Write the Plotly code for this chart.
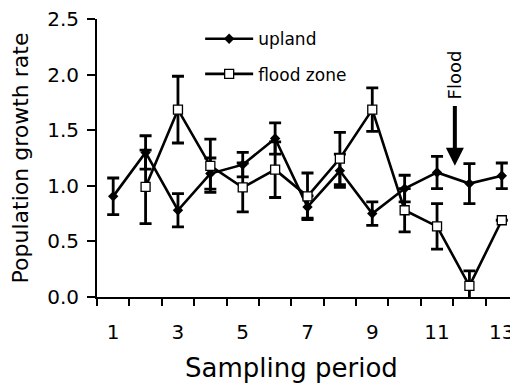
import plotly.graph_objects as go

periods_upland = [1, 2, 3, 4, 5, 6, 7, 8, 9, 10, 11, 12, 13]
upland = [0.905, 1.30, 0.78, 1.11, 1.19, 1.425, 0.81, 1.135, 0.75, 0.975, 1.12, 1.02, 1.09]
upland_err = [0.165, 0.15, 0.15, 0.14, 0.11, 0.14, 0.10, 0.15, 0.105, 0.12, 0.145, 0.18, 0.115]

periods_flood = [2, 3, 4, 5, 6, 7, 8, 9, 10, 11, 12, 13]
flood = [0.99, 1.685, 1.18, 0.985, 1.145, 0.905, 1.245, 1.685, 0.78, 0.635, 0.10, 0.69]
flood_err = [0.33, 0.30, 0.24, 0.22, 0.25, 0.21, 0.235, 0.195, 0.195, 0.205, 0.135, 0.0]

x_ticks = [1, 3, 5, 7, 9, 11, 13]
y_ticks = [0.0, 0.5, 1.0, 1.5, 2.0, 2.5]
flood_x = 11.55
flood_head_y = 1.18
flood_tail_y = 1.73
flood_text_y = 2.0

FONT = "DejaVu Sans, Liberation Sans, Arial, sans-serif"

fig = go.Figure()
fig.add_trace(go.Scatter(
    x=periods_upland, y=upland, name="upland", mode="lines+markers",
    legendgroup="a",
    line=dict(color="black", width=2.6),
    marker=dict(symbol="diamond", size=8, color="black"),
    error_y=dict(type="data", array=upland_err, visible=True, color="black",
                 thickness=2.8, width=6),
))
fig.add_trace(go.Scatter(
    x=periods_flood, y=flood, name="flood zone", mode="lines+markers",
    legendgroup="b",
    line=dict(color="black", width=2.6),
    marker=dict(symbol="square", size=9, color="white",
                line=dict(color="black", width=1.3)),
    error_y=dict(type="data", array=flood_err, visible=True, color="black",
                 thickness=2.8, width=6),
))

fig.add_annotation(x=flood_x, y=flood_head_y, ax=flood_x, ay=flood_tail_y,
                   xref="x", yref="y", axref="x", ayref="y", text="",
                   showarrow=True, arrowhead=2, arrowsize=0.9, arrowwidth=4,
                   arrowcolor="black")
fig.add_annotation(x=flood_x, y=flood_text_y, xref="x", yref="y", text="Flood",
                   showarrow=False, textangle=-90,
                   font=dict(family=FONT, size=18, color="black"))
# x-axis title, placed slightly left of the plot centre as in the reference
fig.add_annotation(x=0.462, y=-0.255, xref="paper", yref="paper",
                   xanchor="center", yanchor="middle", showarrow=False,
                   text="Sampling period",
                   font=dict(family=FONT, size=26, color="black"))

fig.update_layout(
    width=510, height=375,
    margin=dict(l=89, r=0, t=11, b=86),
    paper_bgcolor="white", plot_bgcolor="white",
    font=dict(family=FONT, color="black"),
    showlegend=True,
    legend=dict(x=0.245, y=0.992, xanchor="left", yanchor="top",
                bgcolor="rgba(0,0,0,0)", font=dict(family=FONT, size=17),
                itemwidth=48, tracegroupgap=10),
)
fig.update_xaxes(
    range=[0.5, 13.5], tickvals=x_ticks, ticktext=[str(v) for v in x_ticks],
    ticks="", showgrid=False, zeroline=False, automargin=False,
    showline=True, linecolor="black", linewidth=2,
    tickfont=dict(family=FONT, size=20), ticklabelstandoff=16,
    ticklabeloverflow="allow",
    minor=dict(ticks="outside", tick0=0.5, dtick=1, ticklen=7, tickwidth=2,
               tickcolor="black", showgrid=False),
)
fig.update_yaxes(
    range=[0, 2.5], tickvals=y_ticks, ticktext=[f"{v:.1f}" for v in y_ticks],
    ticks="outside", ticklen=8, tickwidth=2, tickcolor="black",
    showgrid=False, zeroline=False, automargin=False,
    showline=True, linecolor="black", linewidth=2,
    tickfont=dict(family=FONT, size=20), ticklabelstandoff=4,
    ticklabeloverflow="allow",
    title=dict(text="Population growth rate", font=dict(family=FONT, size=22), standoff=12),
)

fig.write_html("out.html")
